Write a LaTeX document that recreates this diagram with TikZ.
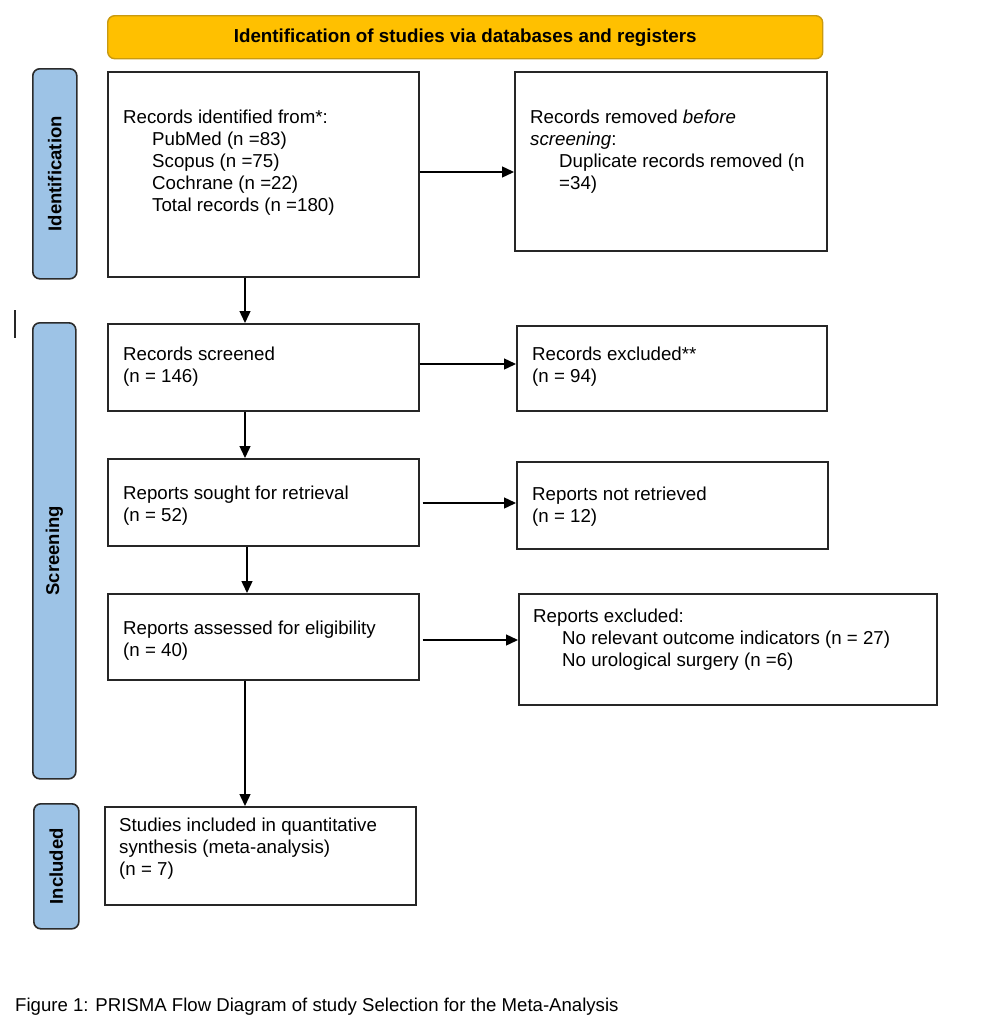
\documentclass[tikz,border=0pt]{standalone}
\usepackage{fontspec}
\setmainfont{Liberation Sans}
\usetikzlibrary{arrows.meta}
\definecolor{bannerfill}{HTML}{FFC000}
\definecolor{bannerline}{HTML}{C99A10}
\definecolor{sidefill}{HTML}{9DC3E6}
\definecolor{sideline}{HTML}{2B2B2B}
\definecolor{boxline}{HTML}{262626}
\tikzset{
  box/.style={draw=boxline, line width=1.6pt, fill=white, anchor=north west, inner sep=0pt},
  sidebox/.style={draw=sideline, line width=1.6pt, fill=sidefill, rounded corners=7pt, anchor=north west, inner sep=0pt},
  sidelabel/.style={rotate=90, font=\fontsize{18.5}{22}\selectfont\bfseries, inner sep=0pt},
  txt/.style={anchor=north west, align=left, inner sep=0pt, font=\fontsize{18.7}{22}\selectfont},
  arr/.style={line width=1.4pt, -{Triangle[length=12pt,width=11pt]}},
}
\newcommand{\ind}{\hspace*{29pt}}
\begin{document}
\begin{tikzpicture}[x=1pt,y=-1pt]
\useasboundingbox (0,0) rectangle (986,1036);
% banner
\node[draw=bannerline, line width=1.4pt, fill=bannerfill, rounded corners=7pt, anchor=north west, inner sep=0pt,
      minimum width=715pt, minimum height=43pt] (banner) at (107,15) {};
\node[font=\fontsize{18.8}{22}\selectfont\bfseries, inner sep=0pt] (bannertxt) at (banner.center) {Identification of studies via databases and registers};
% side boxes
\node[sidebox, minimum width=44pt, minimum height=210pt] (sid) at (32,68) {};
\node[sidelabel] (sidt) at (sid.center) {Identification};
\node[sidebox, minimum width=43pt, minimum height=456pt] (sscr) at (32,322) {};
\node[sidelabel] (sscrt) at (sscr.center) {Screening};
\node[sidebox, minimum width=45pt, minimum height=125pt] (sinc) at (33,803) {};
\node[sidelabel] (sinct) at (sinc.center) {Included};
% stray mark
\coordinate (m1) at (15,310);
\coordinate (m2) at (15,338);
\draw[line width=1.4pt, draw=boxline] (m1) -- (m2);
% main boxes
\node[box, minimum width=311pt, minimum height=205pt] (b1) at (107,71) {};
\node[box, minimum width=312pt, minimum height=179pt] (r1) at (514,71) {};
\node[box, minimum width=311pt, minimum height=87pt] (b2) at (107,323) {};
\node[box, minimum width=310pt, minimum height=85pt] (r2) at (516,325) {};
\node[box, minimum width=311pt, minimum height=87pt] (b3) at (107,458) {};
\node[box, minimum width=311pt, minimum height=87pt] (r3) at (516,461) {};
\node[box, minimum width=311pt, minimum height=86pt] (b4) at (107,593) {};
\node[box, minimum width=418pt, minimum height=111pt] (r4) at (518,593) {};
\node[box, minimum width=311pt, minimum height=98pt] (b5) at (104,806) {};
% texts
\node[txt] (t1) at (123,110) {Records identified from*:\\\ind PubMed (n =83)\\\ind Scopus (n =75)\\\ind Cochrane (n =22)\\\ind Total records (n =180)};
\node[txt] (tr1) at (530,110) {Records removed \textit{before}\\\textit{screening}:\\\ind Duplicate records removed (n\\\ind =34)};
\node[txt] (t2) at (123,347) {Records screened\\(n = 146)};
\node[txt] (tr2) at (532,347) {Records excluded**\\(n = 94)};
\node[txt] (t3) at (123,486) {Reports sought for retrieval\\(n = 52)};
\node[txt] (tr3) at (532,487) {Reports not retrieved\\(n = 12)};
\node[txt] (t4) at (123,621) {Reports assessed for eligibility\\(n = 40)};
\node[txt] (tr4) at (533,609) {Reports excluded:\\\ind No relevant outcome indicators (n = 27)\\\ind No urological surgery (n =6)};
\node[txt] (t5) at (119,818) {Studies included in quantitative\\synthesis (meta-analysis)\\(n = 7)};
% caption
\node[anchor=north west, inner sep=0pt, font=\fontsize{18.6}{22}\selectfont] (cap) at (15,998) {Figure 1: PRISMA Flow Diagram of study Selection for the Meta-Analysis};
% arrows
\draw[arr] (b1.east |- 0,172) -- (r1.west |- 0,172);
\draw[arr] (b2.east |- 0,364) -- (r2.west |- 0,364);
\draw[arr] ([xshift=3pt]b3.east |- 0,503) -- (r3.west |- 0,503);
\draw[arr] ([xshift=3pt]b4.east |- 0,640) -- (r4.west |- 0,640);
\draw[arr] (b1.south -| 245,0) -- (b2.north -| 245,0);
\draw[arr] (b2.south -| 245,0) -- (b3.north -| 245,0);
\draw[arr] (b3.south -| 247,0) -- (b4.north -| 247,0);
\draw[arr] (b4.south -| 245,0) -- (b5.north -| 245,0);
\end{tikzpicture}
\end{document}
